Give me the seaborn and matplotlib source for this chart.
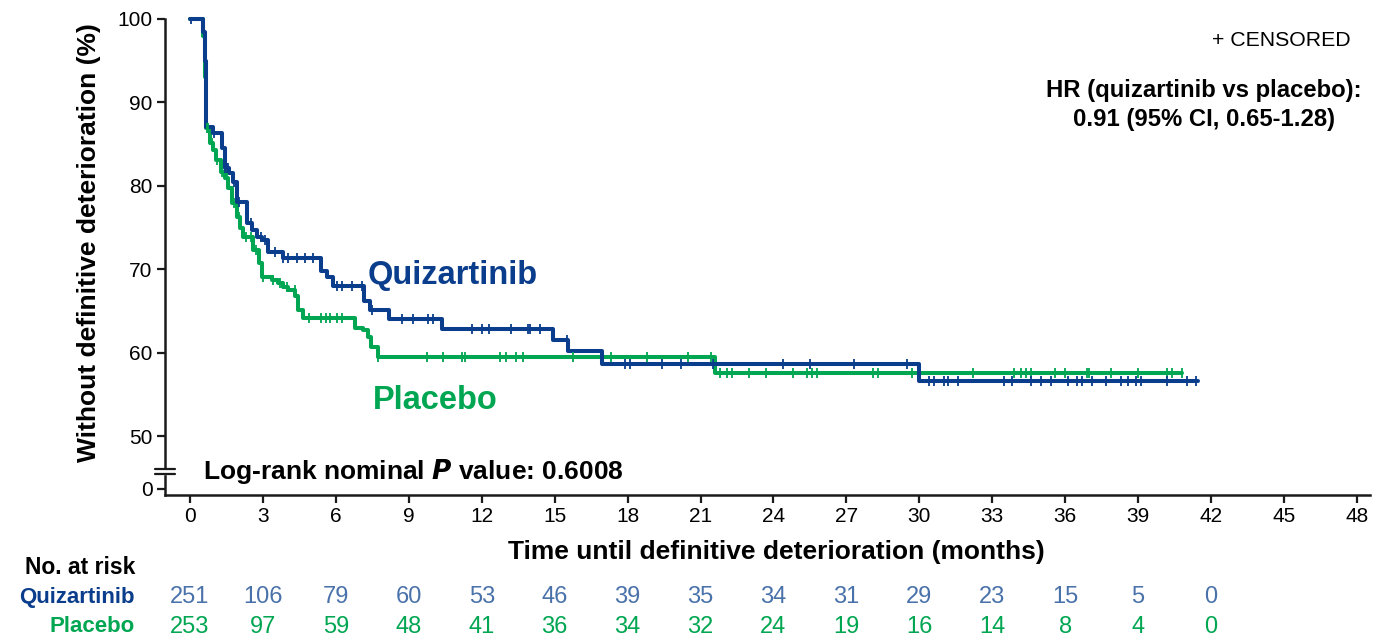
import numpy as np
import pandas as pd
import matplotlib
matplotlib.use("Agg")
import matplotlib.pyplot as plt
import matplotlib.transforms as mtransforms
import seaborn as sns

# Kaplan-Meier steps (time in months, % without deterioration)
quiz_t = [0, 0.55, 0.6, 0.65, 0.95, 1.32, 1.44, 1.6, 1.75, 1.93, 2.34, 2.55, 2.76, 2.97,
          3.21, 3.83, 5.4, 5.63, 5.87, 7.15, 7.4, 8.17, 10.35, 14.95, 15.55, 16.95, 30.0, 41.45]
quiz_s = [100, 98.5, 95, 87.1, 86.3, 84.5, 82.1, 81.5, 80.5, 78.1, 75.5, 74.7, 73.9, 73.5,
          72.1, 71.3, 69.8, 69.1, 68.0, 66.2, 65.1, 64.0, 62.8, 61.5, 60.2, 58.6, 56.6, 56.6]

plac_t = [0, 0.55, 0.6, 0.66, 0.82, 0.96, 1.07, 1.26, 1.44, 1.55, 1.72, 1.92, 2.06, 2.19,
          2.6, 2.85, 2.95, 3.36, 3.62, 3.83, 4.04, 4.32, 4.45, 4.65, 6.79, 7.12, 7.32, 7.45,
          7.73, 21.6, 40.8]
plac_s = [100, 98, 93, 86.9, 85.1, 84.3, 83.1, 81.7, 80.9, 79.7, 77.9, 76.3, 74.9, 73.9,
          72.3, 70.7, 69.1, 68.7, 68.3, 67.9, 67.5, 66.8, 65.1, 64.1, 63.0, 62.7, 61.9, 60.7,
          59.5, 57.6, 57.6]

quiz_cens = [0.05, 0.6, 0.62, 1.0, 1.45, 1.5, 1.55, 1.8, 2.0, 2.5, 2.9, 3.1, 3.5, 3.83, 4.03,
             4.4, 4.73, 5.06, 6.05, 6.25, 6.66, 7.08, 7.5, 8.72, 9.17, 9.8, 10.0, 11.6, 12.0,
             12.3, 13.2, 13.9, 14.0, 14.4, 15.5, 17.9, 18.1, 19.4, 20.2, 21.5, 24.4, 25.5,
             27.3, 29.5, 30.4, 30.6, 31.0, 31.2, 31.6, 33.5, 33.8, 34.6, 35.0, 35.4, 36.1,
             36.5, 36.7, 37.1, 37.7, 38.3, 38.6, 38.9, 39.1, 40.2, 41.0, 41.4]
plac_cens = [0.7, 0.75, 0.9, 1.1, 1.3, 1.5, 1.8, 2.0, 2.3, 2.5, 2.7, 3.0, 3.4, 3.7, 4.0, 4.3,
             4.9, 5.4, 5.6, 5.76, 6.05, 6.25, 7.75, 9.75, 10.4, 11.2, 11.3, 12.75, 13.0, 13.4,
             13.7, 15.75, 17.3, 18.8, 20.5, 21.45, 21.8, 22.1, 22.3, 23.0, 23.7, 24.8, 25.4,
             25.6, 25.8, 28.1, 28.3, 29.7, 32.2, 33.9, 34.2, 34.4, 34.6, 35.6, 36.0, 36.9,
             37.0, 37.9, 39.0, 40.2, 40.4, 40.8]

risk_times = [0, 3, 6, 9, 12, 15, 18, 21, 24, 27, 30, 33, 36, 39, 42]
quiz_risk = [251, 106, 79, 60, 53, 46, 39, 35, 34, 31, 29, 23, 15, 5, 0]
plac_risk = [253, 97, 59, 48, 41, 36, 34, 32, 24, 19, 16, 14, 8, 4, 0]

x_ticks = list(range(0, 49, 3))
y_ticks = [50, 60, 70, 80, 90, 100]
y_zero_pos = 43.65  # where the "0" tick sits below the axis break

BLUE = "#0a3d8c"
BLUE_NUM = "#4a72aa"
GREEN = "#00a651"


def step_value(times, surv, t):
    i = np.searchsorted(times, t, side="right") - 1
    return surv[max(i, 0)]


sns.set_style("ticks")
plt.rcParams["font.family"] = ["Liberation Sans", "DejaVu Sans"]
plt.rcParams["text.color"] = "black"
plt.rcParams["axes.labelcolor"] = "black"
plt.rcParams["xtick.color"] = "black"
plt.rcParams["ytick.color"] = "black"

fig = plt.figure(figsize=(13.98, 6.41), dpi=100)
ax = fig.add_axes([165 / 1398, 1 - 495 / 641, (1370 - 165) / 1398, (495 - 19) / 641])

quiz_df = pd.DataFrame({"time": quiz_t, "surv": quiz_s})
plac_df = pd.DataFrame({"time": plac_t, "surv": plac_s})
sns.lineplot(data=plac_df, x="time", y="surv", drawstyle="steps-post", color=GREEN,
             lw=2.9, estimator=None, sort=False, ax=ax)
sns.lineplot(data=quiz_df, x="time", y="surv", drawstyle="steps-post", color=BLUE,
             lw=2.9, estimator=None, sort=False, ax=ax)

qc = pd.DataFrame({"time": quiz_cens,
                   "surv": [step_value(quiz_t, quiz_s, c) for c in quiz_cens]})
pc = pd.DataFrame({"time": plac_cens,
                   "surv": [step_value(plac_t, plac_s, c) for c in plac_cens]})
ax.scatter(pc["time"], pc["surv"], marker="|", s=55, color=GREEN, linewidths=1.3, zorder=3)
ax.scatter(qc["time"], qc["surv"], marker="|", s=55, color=BLUE, linewidths=1.3, zorder=4)
for ln in ax.lines:
    ln.set_clip_on(False)

ax.set_xlim(-1.03, 48.54)
ax.set_ylim(42.93, 100)
ax.set_xticks(x_ticks)
ax.set_xticklabels([str(v) for v in x_ticks], fontsize=15)
ax.set_yticks([y_zero_pos] + y_ticks)
ax.set_yticklabels(["0"] + [str(v) for v in y_ticks], fontsize=15)
ax.tick_params(axis="both", direction="out", length=6, width=1.6, color="#1a1a1a", pad=3)
for side in ["top", "right"]:
    ax.spines[side].set_visible(False)
for side in ["left", "bottom"]:
    ax.spines[side].set_linewidth(1.8)
    ax.spines[side].set_color("#1a1a1a")

# axis break marks
trans = mtransforms.blended_transform_factory(ax.transAxes, ax.transData)
ax.fill_between([-0.006, 0.006], 45.4, 46.1, transform=trans, color="white",
                clip_on=False, zorder=5)
for yb in [45.4, 46.1]:
    ax.plot([-0.008, 0.008], [yb, yb], transform=trans, color="#1a1a1a", lw=1.6,
            clip_on=False, zorder=6)

ax.set_xlabel("Time until definitive deterioration (months)", fontsize=19,
              fontweight="bold")
ax.xaxis.set_label_coords(0.507, -0.094)
ax.set_ylabel("Without definitive deterioration (%)", fontsize=19, fontweight="bold")
ax.yaxis.set_label_coords(-0.053, 0.531)

ax.text(10.8, 69.3, "Quizartinib", color=BLUE, fontsize=23.5, fontweight="bold",
        ha="center", va="center")
ax.text(10.1, 54.3, "Placebo", color=GREEN, fontsize=23.5, fontweight="bold",
        ha="center", va="center")
ax.text(0.53, 45.8, "Log-rank nominal $\\bfit{P}$ value: 0.6008", fontsize=19,
        fontweight="bold", ha="left", va="center")
ax.text(44.9, 97.4, "+ CENSORED", fontsize=15.3, ha="center", va="center")
ax.text(41.7, 91.4, "HR (quizartinib vs placebo):", fontsize=17.2, fontweight="bold",
        ha="center", va="center")
ax.text(41.7, 88.0, "0.91 (95% CI, 0.65-1.28)", fontsize=17.2, fontweight="bold",
        ha="center", va="center")

# number at risk table
rt = mtransforms.blended_transform_factory(ax.transData, fig.transFigure)
fig.text(135 / 1398, 1 - 567 / 641, "No. at risk", fontsize=16.5, fontweight="bold",
         ha="right", va="center")
fig.text(135 / 1398, 1 - 597 / 641, "Quizartinib", fontsize=16, fontweight="bold",
         color=BLUE, ha="right", va="center")
fig.text(135 / 1398, 1 - 627 / 641, "Placebo", fontsize=16, fontweight="bold",
         color=GREEN, ha="right", va="center")
for t, q, p in zip(risk_times, quiz_risk, plac_risk):
    ax.text(t, 1 - 597 / 641, str(q), transform=rt, fontsize=17, color=BLUE_NUM,
            ha="center", va="center")
    ax.text(t, 1 - 627 / 641, str(p), transform=rt, fontsize=17, color=GREEN,
            ha="center", va="center")

fig.savefig("out.png", dpi=100)
